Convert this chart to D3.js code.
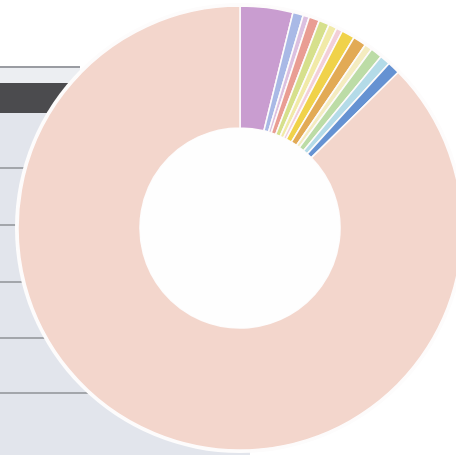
<!DOCTYPE html>
<html><head><meta charset="utf-8">
<script src="https://cdn.jsdelivr.net/npm/d3@7/dist/d3.min.js"></script>
<style>html,body{margin:0;padding:0;background:#fff;overflow:hidden}svg{display:block;filter:blur(0.6px)}</style>
</head><body>
<svg id="chart" width="456" height="455"></svg>
<script>
const categories = ["A","B","C","D","E","F","G","H","I","J","K","L","M","N"];
const values = [3.8, 0.75, 0.45, 0.75, 0.75, 0.6, 0.45, 0.95, 0.95, 0.55, 0.85, 0.75, 0.9, 86.5];
const colors = ["#c99dd0","#a9b9e6","#dcc0e0","#e99d93","#d6e08c","#f1eaa8","#f3cfd8","#f0d24a","#e2aa55","#f4ecc0","#bcdca6","#b4dbe8","#6592d2","#f3d6cc"];

const svg = d3.select("#chart");
const W = 456, H = 455;
const cx = 240, cy = 228, rOut = 222, rIn = 100;

// background page (table behind the chart)
const bg = svg.append("g");
bg.append("rect").attr("x",0).attr("y",66).attr("width",80).attr("height",2).attr("fill","#9a9ca2");
bg.append("rect").attr("x",0).attr("y",68).attr("width",80).attr("height",15).attr("fill","#eceef2");
bg.append("rect").attr("x",0).attr("y",83).attr("width",90).attr("height",30).attr("fill","#4b4b4e");
bg.append("rect").attr("x",0).attr("y",113).attr("width",250).attr("height",H-113).attr("fill","#e2e5ec");
const rowLines = [168, 225, 282, 338, 393];
bg.selectAll("line.row").data(rowLines).enter().append("line")
  .attr("x1",0).attr("x2",250).attr("y1",d=>d).attr("y2",d=>d)
  .attr("stroke","#8e9096").attr("stroke-width",1.5);

const g = svg.append("g").attr("transform",`translate(${cx},${cy})`);
// white halo
g.append("circle").attr("r",rOut+3).attr("fill","#fdfcfc");

const pie = d3.pie().sort(null).value(d=>d.v);
const arc = d3.arc().innerRadius(rIn).outerRadius(rOut);
const data = categories.map((c,i)=>({c, v: values[i], col: colors[i]}));
g.selectAll("path").data(pie(data)).enter().append("path")
  .attr("d", arc)
  .attr("fill", d=>d.data.col)
  .attr("stroke","#fdfbfb").attr("stroke-width",1.6);
g.append("circle").attr("r",rIn).attr("fill","#fefefe");
</script>
</body></html>
